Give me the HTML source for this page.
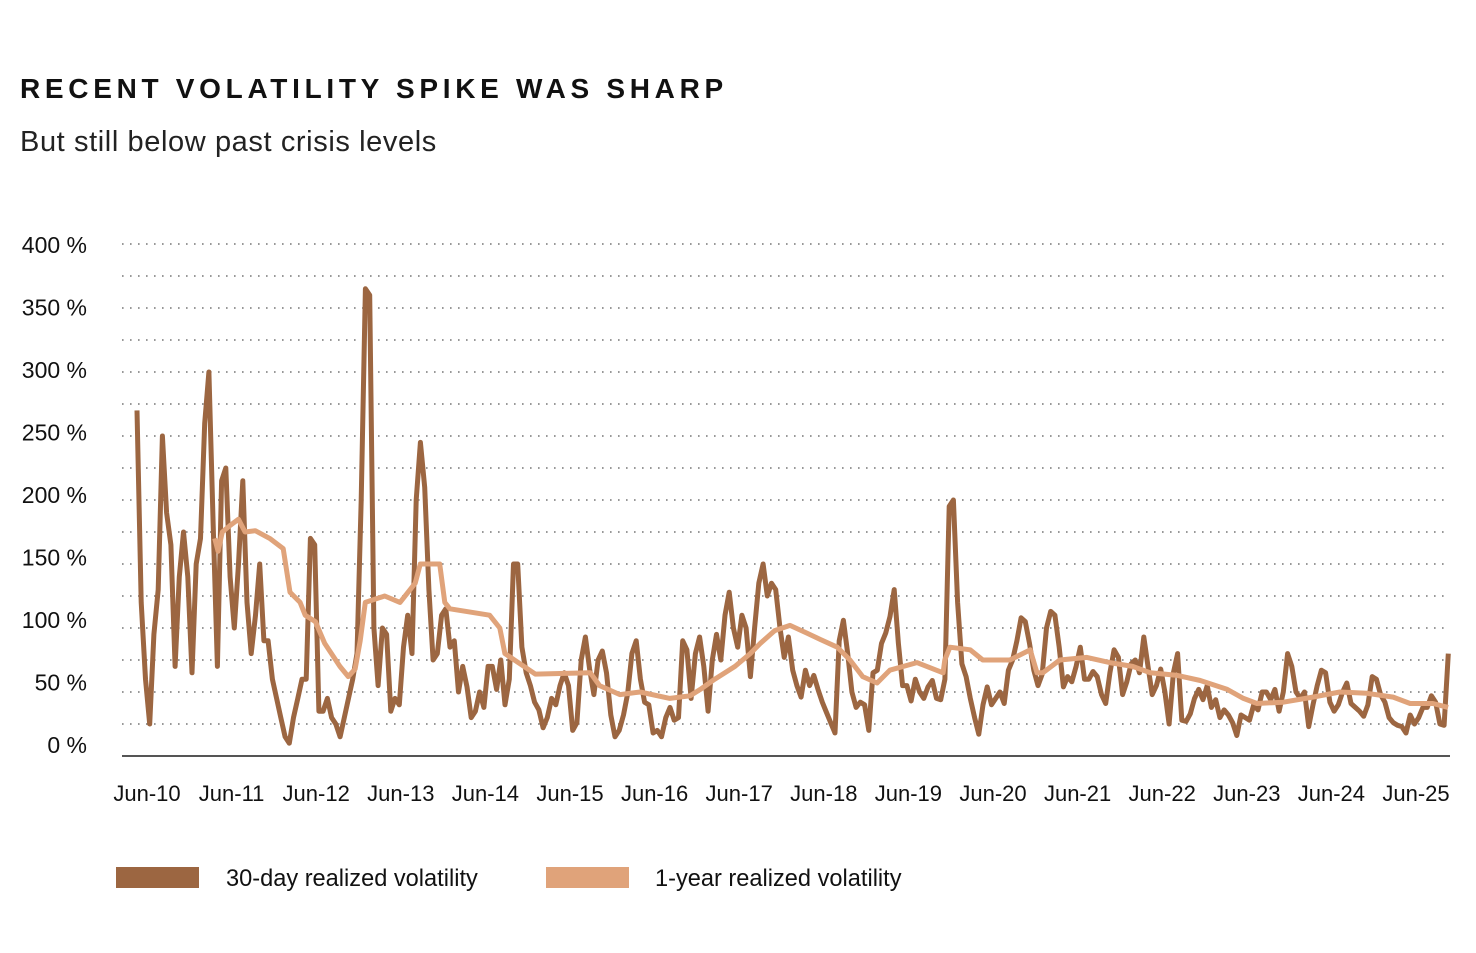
<!DOCTYPE html>
<html><head><meta charset="utf-8"><style>
html,body{margin:0;padding:0;background:#fff;}
body{width:1476px;height:953px;overflow:hidden;position:relative;font-family:"Liberation Sans",sans-serif;color:#111;}
#title{position:absolute;left:20px;top:73px;font-size:28px;font-weight:bold;letter-spacing:4.7px;}
#sub{position:absolute;left:20px;top:126px;font-size:29px;letter-spacing:0.6px;color:#222;}
svg{position:absolute;left:0;top:0;}
</style></head><body>
<div id="title">RECENT VOLATILITY SPIKE WAS SHARP</div>
<div id="sub">But still below past crisis levels</div>
<svg id="chart" width="1476" height="953"></svg>
<script>
const yTicks=[0,50,100,150,200,250,300,350,400];
const xTickLabels=["Jun-10","Jun-11","Jun-12","Jun-13","Jun-14","Jun-15","Jun-16","Jun-17","Jun-18","Jun-19","Jun-20","Jun-21","Jun-22","Jun-23","Jun-24","Jun-25"];
const xTickYears=[2010.5,2011.5,2012.5,2013.5,2014.5,2015.5,2016.5,2017.5,2018.5,2019.5,2020.5,2021.5,2022.5,2023.5,2024.5,2025.5];
const start30=2010.382, step30=0.05;
const vol30=[270,120,60,25,95,130,250,190,165,70,140,175,140,65,150,170,260,300,180,70,215,225,140,100,150,215,120,80,110,150,90,90,60,45,30,15,10,30,45,60,60,170,165,35,35,45,30,25,15,30,45,60,80,200,365,360,100,55,100,95,35,45,40,85,110,80,200,245,210,130,75,80,110,115,85,
90,50,70,54,30,35,50,38,70,70,52,75,40,60,150,150,85,65,55,42,36,22,30,45,40,55,65,55,20,26,75,93,68,48,75,82,65,32,15,20,32,49,80,90,60,42,40,18,20,15,30,38,28,30,90,83,45,80,93,70,35,75,95,75,110,128,100,85,110,100,62,100,135,150,125,135,130,100,
77,93,67,55,46,67,55,63,52,42,34,26,18,90,106,80,50,38,42,40,20,65,67,88,96,109,130,88,55,55,43,60,50,45,54,59,45,44,60,195,200,120,72,62,45,30,17,40,54,40,45,50,41,67,75,90,108,105,88,67,55,64,100,113,110,85,54,62,58,70,85,60,60,66,62,48,41,65,
83,77,48,58,72,75,65,93,70,48,55,68,50,25,65,80,28,27,33,45,52,44,55,38,44,30,36,32,26,16,32,30,28,40,36,50,50,44,52,35,50,80,70,50,45,50,23,40,55,67,65,42,35,40,50,57,41,38,35,31,40,62,60,48,42,30,26,24,23,18,32,25,30,38,38,47,42,25,24,80];
const dates1y=[2011.30,2011.34,2011.39,2011.48,2011.58,2011.66,2011.78,2011.95,2012.11,2012.19,2012.31,2012.37,2012.49,2012.60,2012.78,2012.88,2012.96,2013.02,2013.08,2013.31,2013.49,2013.67,2013.73,2013.96,2014.02,2014.08,2014.55,2014.67,2014.73,2014.91,2015.09,2015.74,2015.85,2016.09,2016.33,2016.68,2016.92,2017.04,2017.21,2017.45,2017.63,2017.75,2017.92,2018.10,2018.30,2018.46,2018.66,2018.81,2018.96,2019.13,2019.28,2019.60,2019.91,2019.93,2019.99,2020.23,2020.38,2020.70,2020.94,2021.02,2021.09,2021.29,2021.61,2021.88,2022.15,2022.36,2022.68,2022.95,2023.27,2023.46,2023.62,2023.93,2024.28,2024.60,2024.92,2025.23,2025.43,2025.70,2025.88];
const vol1y=[170,160,175,180,185,175,176,170,162,128,120,110,105,88,70,62,68,90,120,125,120,135,150,150,120,115,110,100,80,72,64,65,55,48,50,45,47,52,60,70,80,88,98,102,96,91,85,75,62,57,67,73,65,75,85,83,75,75,83,65,65,75,77,73,70,65,63,59,52,45,41,42,46,50,49,46,41,41,38];

const NS="http://www.w3.org/2000/svg";
const svg=document.getElementById('chart');
const X0=122,X1=1450;
function xs(yr){return 147+(yr-2010.5)*84.6;}
function ys(v){return 756-v*32/25;}
function labelY(v){return 245+(400-v)*1.25;}
function mk(tag,attrs,parent){const e=document.createElementNS(NS,tag);for(const k in attrs)e.setAttribute(k,attrs[k]);(parent||svg).appendChild(e);return e;}
for(let g=25;g<=400;g+=25){
  const l=mk('line',{x1:X0,x2:X1,y1:ys(g),y2:ys(g),stroke:'#777','stroke-width':1.6,'stroke-dasharray':'1.6 6.4'});
  
  
}
const ax=mk('line',{x1:X0,x2:X1,y1:756,y2:756,stroke:'#555','stroke-width':2});


yTicks.forEach(v=>{
  const t=mk('text',{x:87,y:labelY(v)+8,'text-anchor':'end','font-size':23,fill:'#111','font-family':'Liberation Sans, sans-serif'});
  t.textContent=v+' %';
  
  
});
xTickLabels.forEach((s,i)=>{
  const t=mk('text',{x:xs(xTickYears[i]),y:801,'text-anchor':'middle','font-size':22,fill:'#111','font-family':'Liberation Sans, sans-serif'});
  t.textContent=s;
  
  
});
let d='';
vol30.forEach((v,i)=>{d+=(i?'L':'M')+xs(start30+i*step30).toFixed(1)+' '+ys(v).toFixed(1);});
const p30=mk('path',{d:d,fill:'none',stroke:'#9c6641','stroke-width':5,'stroke-linejoin':'round'});


let d2='';
vol1y.forEach((v,i)=>{d2+=(i?'L':'M')+xs(dates1y[i]).toFixed(1)+' '+ys(v).toFixed(1);});
const p1=mk('path',{d:d2,fill:'none',stroke:'#e0a37a','stroke-width':5,'stroke-linejoin':'round'});


const lg=[["30-day realized volatility","#9c6641",116,226],["1-year realized volatility","#e0a37a",546,655]];
lg.forEach(e=>{
  const r=mk('rect',{x:e[2],y:867,width:83,height:21,fill:e[1]});
  
  
  const t=mk('text',{x:e[3],y:886,'font-size':23.6,fill:'#111','font-family':'Liberation Sans, sans-serif'});
  t.textContent=e[0];
  
  
});
</script>
</body></html>
